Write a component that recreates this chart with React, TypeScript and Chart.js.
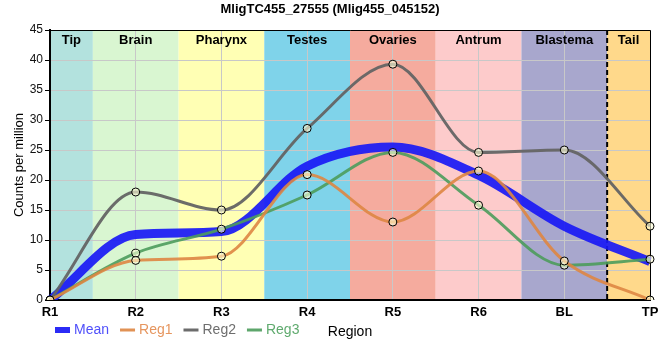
import { useEffect, useRef } from 'react';
import { Chart, registerables } from 'chart.js';

Chart.register(...registerables);

const TITLE = 'MligTC455_27555 (Mlig455_045152)';
const X_TITLE = 'Region';
const Y_TITLE = 'Counts per million';

const categories = ['R1', 'R2', 'R3', 'R4', 'R5', 'R6', 'BL', 'TP'];
const bandLabels = ['Tip', 'Brain', 'Pharynx', 'Testes', 'Ovaries', 'Antrum', 'Blastema', 'Tail'];
const bandColors = ['#b3e2de', '#d9f6d1', '#ffffb4', '#7fd3ea', '#f5ab9e', '#fdcbcb', '#a8a7cd', '#ffd98b'];
const dashedBoundary = 6.5;

const meanValues = [0, 10.9, 11.4, 22.3, 25.5, 20.8, 12.3, 6.4];
const reg1Values = [0, 6.6, 7.3, 20.9, 13.0, 21.5, 6.5, 0];
const reg2Values = [0, 18.0, 15.0, 28.6, 39.3, 24.6, 25.0, 12.3];
const reg3Values = [0, 7.8, 11.8, 17.5, 24.6, 15.8, 5.8, 6.8];

const yTicks = { min: 0, max: 45, step: 5 };

const FONT = '"Liberation Sans", Arial, sans-serif';

const MEAN_COLOR = 'rgba(25,25,245,0.92)';
const REG1_COLOR = 'rgba(222,134,66,0.9)';
const REG2_COLOR = 'rgba(100,100,100,0.95)';
const REG3_COLOR = 'rgba(76,156,92,0.9)';

const legendItems = [
  { label: 'Mean', color: MEAN_COLOR, text: 'rgba(80,80,250,1)', thick: 6 },
  { label: 'Reg1', color: REG1_COLOR, text: 'rgba(230,150,95,1)', thick: 3 },
  { label: 'Reg2', color: REG2_COLOR, text: 'rgba(110,110,110,1)', thick: 3 },
  { label: 'Reg3', color: REG3_COLOR, text: 'rgba(95,170,110,1)', thick: 3 },
];

const decorPlugin = {
  id: 'decor',
  beforeDraw(chart: any) {
    const { ctx, chartArea } = chart;
    const xs = chart.scales.x;
    const n = categories.length;
    ctx.save();
    ctx.fillStyle = '#ffffff';
    ctx.fillRect(0, 0, chart.width, chart.height);
    for (let i = 0; i < bandLabels.length; i++) {
      const x0 = xs.getPixelForValue(Math.max(0, i - 0.5));
      const x1 = xs.getPixelForValue(Math.min(n - 1, i + 0.5));
      ctx.fillStyle = bandColors[i];
      ctx.fillRect(x0, chartArea.top, x1 - x0, chartArea.bottom - chartArea.top);
    }
    ctx.fillStyle = '#000';
    ctx.font = `bold 13px ${FONT}`;
    ctx.textAlign = 'center';
    ctx.textBaseline = 'middle';
    ctx.fillText(TITLE, chart.width / 2, 9);
    ctx.restore();
  },
  beforeDatasetsDraw(chart: any) {
    const { ctx, chartArea } = chart;
    const xs = chart.scales.x;
    const n = categories.length;
    ctx.save();
    ctx.strokeStyle = '#000';
    ctx.lineWidth = 1;
    ctx.beginPath();
    ctx.moveTo(chartArea.left, chartArea.top + 0.5);
    ctx.lineTo(chartArea.right + 0.5, chartArea.top + 0.5);
    ctx.lineTo(chartArea.right + 0.5, chartArea.bottom);
    ctx.stroke();
    const xd = xs.getPixelForValue(dashedBoundary);
    ctx.setLineDash([5, 3]);
    ctx.lineWidth = 2;
    ctx.beginPath();
    ctx.moveTo(xd, chartArea.top);
    ctx.lineTo(xd, chartArea.bottom);
    ctx.stroke();
    ctx.setLineDash([]);
    ctx.fillStyle = '#000';
    ctx.font = `bold 13px ${FONT}`;
    ctx.textAlign = 'center';
    ctx.textBaseline = 'middle';
    for (let i = 0; i < bandLabels.length; i++) {
      const x0 = xs.getPixelForValue(Math.max(0, i - 0.5));
      const x1 = xs.getPixelForValue(Math.min(n - 1, i + 0.5));
      ctx.fillText(bandLabels[i], (x0 + x1) / 2, chartArea.top + 10);
    }
    ctx.restore();
  },
  afterDraw(chart: any) {
    const { ctx, chartArea } = chart;
    ctx.save();
    const y = 330;
    let x = 55;
    ctx.font = `14px ${FONT}`;
    ctx.textBaseline = 'middle';
    ctx.textAlign = 'left';
    for (const it of legendItems) {
      ctx.fillStyle = it.color;
      ctx.fillRect(x, y - it.thick / 2, 15, it.thick);
      ctx.fillStyle = it.text;
      ctx.fillText(it.label, x + 19, y);
      x += 19 + ctx.measureText(it.label).width + 11;
    }
    ctx.fillStyle = '#000';
    ctx.textAlign = 'center';
    ctx.fillText(X_TITLE, (chartArea.left + chartArea.right) / 2, 332);
    ctx.restore();
  },
};

const markerFill = 'rgba(255,255,215,0.6)';

export default function App() {
  const ref = useRef<HTMLCanvasElement | null>(null);
  useEffect(() => {
    if (!ref.current) return;
    const regDataset = (label: string, data: number[], color: string) => ({
      label,
      data,
      borderColor: color,
      backgroundColor: markerFill,
      borderWidth: 3,
      pointRadius: 4,
      pointBorderWidth: 1,
      pointBorderColor: '#000',
      pointBackgroundColor: markerFill,
      cubicInterpolationMode: 'monotone' as const,
      order: 0,
    });
    const chart = new Chart(ref.current, {
      type: 'line',
      data: {
        labels: categories,
        datasets: [
          regDataset('Reg1', reg1Values, REG1_COLOR),
          regDataset('Reg2', reg2Values, REG2_COLOR),
          regDataset('Reg3', reg3Values, REG3_COLOR),
          {
            label: 'Mean',
            data: meanValues,
            borderColor: MEAN_COLOR,
            backgroundColor: MEAN_COLOR,
            borderWidth: 9,
            pointRadius: 0,
            cubicInterpolationMode: 'monotone' as const,
            order: 1,
          },
        ],
      },
      options: {
        animation: false,
        responsive: false,
        maintainAspectRatio: false,
        layout: { padding: { top: 30, left: 0, right: 10, bottom: 0 } },
        plugins: {
          legend: { display: false },
          title: { display: false },
          tooltip: { enabled: false },
        },
        scales: {
          x: {
            type: 'category',
            offset: false,
            afterFit: (s: any) => { s.height = 60; s.paddingLeft = 0; s.paddingRight = 0; },
            grid: { color: '#c8c8c8', lineWidth: 1, drawTicks: false },
            border: { color: '#000', width: 2 },
            ticks: {
              color: '#000',
              font: { family: FONT, size: 13, weight: 'bold' },
              padding: 5,
              maxRotation: 0,
              autoSkip: false,
            },
          },
          y: {
            min: yTicks.min,
            max: yTicks.max,
            afterFit: (s: any) => { s.width = 50; s.paddingTop = 0; s.paddingBottom = 0; },
            grid: { color: '#c8c8c8', lineWidth: 1, tickLength: 5, tickColor: '#000' },
            border: { color: '#000', width: 2 },
            ticks: {
              stepSize: yTicks.step,
              color: '#111',
              font: { family: FONT, size: 12 },
              padding: 2,
            },
            title: {
              display: true,
              text: Y_TITLE,
              color: '#000',
              font: { family: FONT, size: 13 },
              padding: { top: 12, bottom: 0 },
            },
          },
        },
      },
      plugins: [decorPlugin],
    });
    return () => chart.destroy();
  }, []);
  return (
    <div style={{ position: 'absolute', left: 0, top: 0, width: 660, height: 360 }}>
      <canvas ref={ref} width={660} height={360} style={{ width: 660, height: 360 }} />
    </div>
  );
}
